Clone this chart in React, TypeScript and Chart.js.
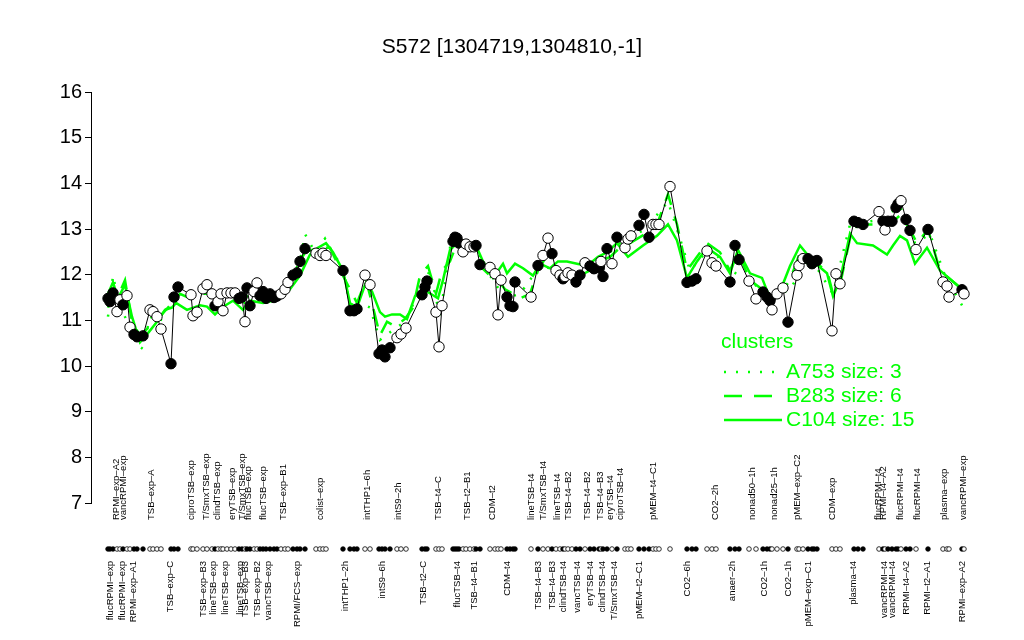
import React, { useEffect, useRef } from "react";
import { Chart, registerables } from "chart.js";

Chart.register(...registerables);

const TITLE = "S572 [1304719,1304810,-1]";
const FONT = '"Liberation Sans", Arial, Helvetica, sans-serif';

// sample positions along the x axis (ordered), values and filled (1) / open (0) markers
const samplePos = [108,110,113,117,120,123,127,130,134,137,143,150,153,157,161,171,174,178,191,193,197,203,207,212,215,218,221,223,227,231,235,239,242,245,247,250,254,257,260,263,266,270,274,277,281,285,288,293,297,300,305,316,320,323,326,343,350,354,357,365,370,379,382,385,390,397,401,406,422,425,427,436,439,442,453,455,457,459,463,466,470,474,476,480,490,495,498,501,507,510,513,515,531,538,543,548,552,556,560,563,565,568,572,576,580,585,590,594,599,601,603,607,612,617,625,628,631,639,644,649,653,656,659,670,687,692,696,707,712,716,730,735,739,749,756,763,767,770,772,777,783,788,797,799,803,808,812,814,817,832,836,840,854,858,863,879,883,885,888,892,896,898,901,906,910,916,928,943,947,949,962,964];
const sampleVal = [11.48,11.41,11.60,11.19,11.45,11.34,11.54,10.85,10.69,10.64,10.66,11.23,11.19,11.08,10.81,10.05,11.51,11.73,11.56,11.10,11.18,11.69,11.78,11.58,11.32,11.41,11.58,11.21,11.60,11.60,11.60,11.48,11.51,10.97,11.71,11.32,11.63,11.82,11.54,11.63,11.48,11.58,11.50,11.53,11.58,11.68,11.83,11.99,12.04,12.29,12.57,12.47,12.42,12.47,12.42,12.09,11.21,11.21,11.25,11.99,11.78,10.27,10.35,10.20,10.40,10.62,10.70,10.83,11.56,11.73,11.86,11.18,10.42,11.32,12.73,12.82,12.80,12.69,12.50,12.67,12.61,12.61,12.64,12.22,12.16,12.02,11.12,11.88,11.51,11.32,11.30,11.84,11.51,12.20,12.42,12.80,12.46,12.09,11.99,11.91,11.96,12.04,11.99,11.84,11.99,12.26,12.19,12.13,12.15,12.29,11.96,12.57,12.24,12.82,12.59,12.78,12.85,13.08,13.32,12.82,13.10,13.10,13.10,13.93,11.83,11.86,11.91,12.52,12.26,12.19,11.84,12.64,12.33,11.86,11.47,11.62,11.51,11.43,11.23,11.58,11.71,10.96,11.99,12.20,12.35,12.35,12.24,12.29,12.31,10.77,12.02,11.80,13.17,13.14,13.10,13.38,13.17,12.98,13.17,13.17,13.47,13.55,13.62,13.21,12.97,12.55,12.99,11.84,11.75,11.51,11.67,11.58];
const sampleFilled = [1,1,1,0,0,1,0,0,1,1,1,0,0,0,0,1,1,1,0,0,0,0,0,0,1,0,0,0,0,0,0,1,1,0,1,1,0,0,1,1,1,1,1,1,0,0,0,1,1,1,1,0,0,0,0,1,1,1,1,0,0,1,1,1,1,0,0,0,1,1,1,0,0,0,1,1,1,1,0,0,0,0,1,1,0,0,0,0,1,1,1,1,0,1,0,0,1,0,0,1,0,0,0,1,1,0,1,1,1,0,1,1,0,1,0,0,0,1,1,1,0,0,0,0,1,1,1,0,0,0,1,1,1,0,0,1,1,1,0,0,0,1,0,0,0,1,1,1,1,0,0,0,1,1,1,0,1,0,1,1,1,1,0,1,1,0,1,0,0,0,1,0];

// cluster profiles
const a753Pos = [108,113,120,130,137,143,150,160,172,180,190,200,215,230,245,260,275,290,300,305,315,325,335,343,350,360,370,380,392,405,420,430,440,450,460,475,490,505,520,540,560,580,600,620,645,668,680,690,710,730,750,770,790,810,833,850,880,900,915,930,945,962];
const a753Val = [11.08,11.98,11.28,10.87,10.47,10.37,11.08,10.97,11.48,11.68,11.58,11.68,11.48,11.58,11.38,11.68,11.58,11.88,12.29,12.89,12.49,12.79,12.39,12.19,11.28,11.38,11.28,10.57,10.77,10.97,11.68,12.09,11.08,12.59,12.69,12.59,11.98,11.48,11.58,12.19,12.09,11.98,12.29,12.69,12.99,13.6,12.79,12.09,12.59,12.09,11.88,11.48,11.68,12.39,11.58,13.1,13.2,13.5,12.69,12.89,11.98,11.33];
const b283Pos = [108,113,120,125,132,140,150,160,172,180,190,200,210,220,232,243,252,263,275,285,295,305,318,330,343,350,357,366,372,380,387,395,405,413,420,428,436,442,450,457,470,480,490,498,505,513,520,530,538,546,552,560,570,580,590,600,610,620,630,645,657,668,677,687,697,707,720,730,738,750,762,770,780,790,800,813,827,833,840,852,860,875,890,900,910,917,928,940,962];
const b283Val = [11.28,11.68,11.63,11.88,10.97,10.67,10.87,11.08,11.38,11.58,11.48,11.58,11.58,11.48,11.58,11.48,11.58,11.58,11.58,11.68,12.09,12.49,12.59,12.59,11.98,11.68,11.38,11.88,11.38,10.67,10.97,10.87,11.03,11.28,11.98,12.19,11.58,12.09,12.29,12.69,12.69,12.19,11.98,11.88,11.68,11.58,11.48,11.58,12.09,12.39,12.29,12.03,11.98,11.98,12.09,12.29,12.39,12.59,12.69,12.89,13.1,13.76,13.1,12.09,12.39,12.69,12.49,12.09,12.49,11.88,11.68,11.48,11.58,11.88,12.49,12.29,12.09,11.58,11.78,12.99,13.1,13.1,13.1,13.3,12.99,12.69,12.99,12.09,11.68];
const c104Pos = [108,113,118,125,132,140,148,157,165,172,176,187,200,207,215,222,233,243,250,263,273,280,290,300,310,318,326,333,343,350,357,365,372,380,385,392,400,407,415,427,438,443,450,457,470,477,483,493,503,507,515,523,533,540,550,558,567,577,587,598,607,617,628,643,657,668,677,687,697,707,720,730,738,750,762,770,780,790,800,813,827,833,840,850,857,873,887,893,900,907,915,927,940,962];
const c104Val = [11.58,11.83,11.48,11.78,11.08,10.52,10.72,10.97,11.23,11.28,11.38,11.23,11.33,11.3,11.13,11.28,11.43,11.23,11.43,11.38,11.43,11.48,11.68,11.98,12.44,12.59,12.69,12.49,12.09,11.38,11.28,11.78,11.63,11.18,11.08,11.13,11.13,11.03,11.53,11.63,11.48,11.88,12.54,12.69,12.59,12.59,12.29,11.93,12.24,12.03,12.24,12.14,11.98,12.24,12.14,12.29,12.29,12.24,12.19,12.39,12.49,12.69,12.39,12.64,12.85,13.1,12.75,11.93,12.29,12.59,12.39,12.03,12.54,12.03,11.93,11.48,11.63,12.19,12.64,12.29,12.03,11.53,11.88,12.9,12.69,12.64,12.44,12.64,12.85,12.75,12.24,12.59,12.09,11.68];

// category labels under the axis
const topLabels = ["RPMI\u2013exp\u2013A2","vancRPMI\u2013exp","TSB\u2013exp\u2013A","ciproTSB\u2013exp","T/SmxTSB\u2013exp","clindTSB\u2013exp","eryTSB\u2013exp","T/SmxTSB\u2013exp","flucTSB\u2013exp","flucTSB\u2013exp","TSB\u2013exp\u2013B1","colist\u2013exp","intTHP1\u20136h","intS9\u20132h","TSB\u2013t4\u2013C","TSB\u2013t2\u2013B1","CDM\u2013t2","lineTSB\u2013t4","T/SmxTSB\u2013t4","lineTSB\u2013t4","TSB\u2013t4\u2013B2","TSB\u2013t4\u2013B2","TSB\u2013t4\u2013B3","eryTSB\u2013t4","ciproTSB\u2013t4","pMEM\u2013t4\u2013C1","CO2\u20132h","nonad50\u20131h","nonad25\u20131h","pMEM\u2013exp\u2013C2","CDM\u2013exp","flucRPMI\u2013t4","RPMI\u2013t4\u2013A2","flucRPMI\u2013t4","flucRPMI\u2013t4","plasma\u2013exp","vancRPMI\u2013exp"];
const topLabelPos = [116,123,151,191,206,217,232,242,248,263,283,320,367,398,438,467,492,531,543,557,568,587,600,610,620,653,715,752,774,797,832,878,883,900,917,944,963];
const bottomLabels = ["flucRPMI\u2013exp","flucRPMI\u2013exp","RPMI\u2013exp\u2013A1","TSB\u2013exp\u2013C","TSB\u2013exp\u2013B3","lineTSB\u2013exp","lineTSB\u2013exp","lineTSB\u2013exp","TSB\u2013exp\u2013B3","TSB\u2013exp\u2013B2","vancTSB\u2013exp","RPMI/FCS\u2013exp","intTHP1\u20132h","intS9\u20136h","TSB\u2013t2\u2013C","flucTSB\u2013t4","TSB\u2013t4\u2013B1","CDM\u2013t4","TSB\u2013t4\u2013B3","TSB\u2013t4\u2013B3","clindTSB\u2013t4","vancTSB\u2013t4","eryTSB\u2013t4","clindTSB\u2013t4","T/SmxTSB\u2013t4","pMEM\u2013t2\u2013C1","CO2\u20136h","anaer\u20132h","CO2\u20131h","CO2\u20131h","pMEM\u2013exp\u2013C1","plasma\u2013t4","vancRPMI\u2013t4","vancRPMI\u2013t4","RPMI\u2013t4\u2013A2","RPMI\u2013t2\u2013A1","RPMI\u2013exp\u2013A2"];
const bottomLabelPos = [110,122,133,170,203,213,225,240,245,257,268,297,345,382,423,457,474,507,538,552,563,577,590,602,614,639,687,732,764,788,808,853,884,892,906,927,962];

const legendTitle = "clusters";
const legendNames = ["A753 size: 3", "B283 size: 6", "C104 size: 15"];
const legendDashes = [[2, 10], [18, 12], []];

const GREEN = "#00ff00";

const overlay = {
  id: "overlay",
  afterDraw(chart: any) {
    const ctx = chart.ctx;
    const xs = chart.scales.x;
    ctx.save();
    // title
    ctx.fillStyle = "#000";
    ctx.font = `21px ${FONT}`;
    ctx.textAlign = "center";
    ctx.textBaseline = "middle";
    ctx.fillText(TITLE, 512, 47);

    // sample strip
    samplePos.forEach((p, i) => {
      const x = xs.getPixelForValue(p);
      ctx.beginPath();
      ctx.arc(x, 549, 2.3, 0, Math.PI * 2);
      ctx.fillStyle = sampleFilled[i] ? "#000" : "#fff";
      ctx.fill();
      ctx.lineWidth = 0.8;
      ctx.strokeStyle = "#000";
      ctx.stroke();
    });

    // rotated labels
    ctx.font = `9.5px ${FONT}`;
    ctx.fillStyle = "#000";
    ctx.textBaseline = "middle";
    topLabels.forEach((t, i) => {
      const x = xs.getPixelForValue(topLabelPos[i]);
      ctx.save();
      ctx.translate(x, 520);
      ctx.rotate(-Math.PI / 2);
      ctx.textAlign = "left";
      ctx.fillText(t, 0, 0);
      ctx.restore();
    });
    bottomLabels.forEach((t, i) => {
      const x = xs.getPixelForValue(bottomLabelPos[i]);
      ctx.save();
      ctx.translate(x, 561);
      ctx.rotate(-Math.PI / 2);
      ctx.textAlign = "right";
      ctx.fillText(t, 0, 0);
      ctx.restore();
    });

    // legend
    ctx.fillStyle = GREEN;
    ctx.strokeStyle = GREEN;
    ctx.font = `21px ${FONT}`;
    ctx.textAlign = "left";
    ctx.fillText(legendTitle, 721, 342);
    legendNames.forEach((n, i) => {
      const y = 372 + i * 24;
      ctx.beginPath();
      ctx.setLineDash(legendDashes[i]);
      ctx.lineWidth = 2.5;
      ctx.moveTo(724, y);
      ctx.lineTo(782, y);
      ctx.stroke();
      ctx.setLineDash([]);
      ctx.fillText(n, 786, y);
    });
    ctx.restore();
  },
};

function toXY(pos: number[], val: number[]) {
  return pos.map((p, i) => ({ x: p, y: val[i] }));
}

export default function App() {
  const ref = useRef<HTMLCanvasElement | null>(null);
  useEffect(() => {
    if (!ref.current) return;
    const chart = new Chart(ref.current, {
      type: "line",
      data: {
        datasets: [
          {
            label: "samples",
            data: toXY(samplePos, sampleVal),
            borderColor: "#000",
            borderWidth: 1,
            pointRadius: 5.2,
            pointBorderWidth: 1,
            pointBorderColor: "#000",
            pointBackgroundColor: sampleFilled.map((f) => (f ? "#000" : "#fff")),
            tension: 0,
            fill: false,
          },
          {
            label: "C104",
            data: toXY(c104Pos, c104Val),
            borderColor: GREEN,
            borderWidth: 2.5,
            pointRadius: 0,
            tension: 0,
            fill: false,
          },
          {
            label: "B283",
            data: toXY(b283Pos, b283Val),
            borderColor: GREEN,
            borderWidth: 2.5,
            borderDash: [18, 12],
            pointRadius: 0,
            tension: 0,
            fill: false,
          },
          {
            label: "A753",
            data: toXY(a753Pos, a753Val),
            borderColor: GREEN,
            borderWidth: 2.5,
            borderDash: [2, 10],
            pointRadius: 0,
            tension: 0,
            fill: false,
          },
        ],
      },
      options: {
        animation: false,
        responsive: false,
        layout: { padding: { left: 0, top: 92, right: 39, bottom: 137 } },
        plugins: { legend: { display: false }, tooltip: { enabled: false }, title: { display: false } },
        scales: {
          x: { type: "linear", min: 91, max: 985, display: false },
          y: {
            min: 7,
            max: 16,
            afterFit(s: any) {
              s.width = 91;
            },
            ticks: { stepSize: 1, color: "#000", font: { size: 20, family: FONT }, padding: 3 },
            grid: { drawOnChartArea: false, drawTicks: true, tickLength: 6, color: "#000" },
            border: { display: true, color: "#000", width: 1 },
          },
        },
      },
      plugins: [overlay],
    });
    return () => chart.destroy();
  }, []);
  return (
    <div style={{ position: "absolute", left: 0, top: 0, width: 1024, height: 640, background: "#fff" }}>
      <canvas ref={ref} width={1024} height={640} style={{ display: "block" }} />
    </div>
  );
}
